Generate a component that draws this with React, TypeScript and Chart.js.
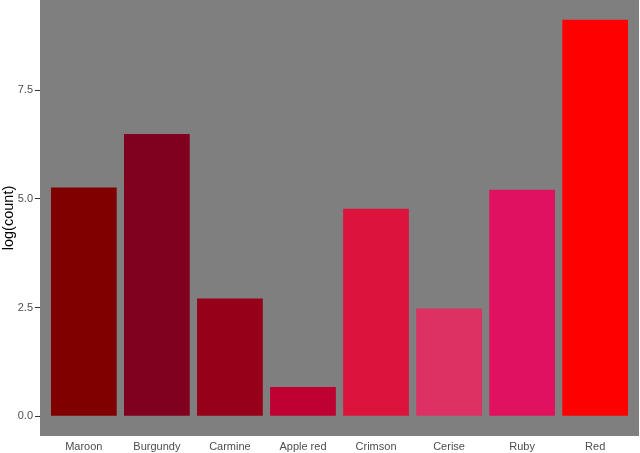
import React, { useEffect, useRef } from "react";
import { Chart, registerables } from "chart.js";

Chart.register(...registerables);

const categories = ["Maroon", "Burgundy", "Carmine", "Apple red", "Crimson", "Cerise", "Ruby", "Red"];
const values = [5.26, 6.49, 2.71, 0.67, 4.77, 2.48, 5.21, 9.12];
const barColors = ["#800000", "#800020", "#960018", "#BE0032", "#DC143C", "#DE3163", "#E0115F", "#FF0000"];
const yTicks = [0, 2.5, 5, 7.5];
const yTitle = "log(count)";

const panelBg = {
  id: "panelBg",
  beforeDraw(chart: any) {
    const { ctx, chartArea } = chart;
    ctx.save();
    ctx.fillStyle = "#7F7F7F";
    ctx.fillRect(chartArea.left, chartArea.top, chartArea.right - chartArea.left, chartArea.bottom - chartArea.top);
    ctx.restore();
  },
};

export default function App() {
  const ref = useRef<HTMLCanvasElement>(null);
  useEffect(() => {
    const maxV = Math.max(...values);
    const chart = new Chart(ref.current!, {
      type: "bar",
      data: {
        datasets: [
          {
            data: values.map((v, i) => ({ x: i + 1, y: v })),
            backgroundColor: barColors,
            borderWidth: 0,
            barPercentage: 1,
            categoryPercentage: 0.9,
          },
        ],
      },
      options: {
        animation: false,
        responsive: false,
        maintainAspectRatio: false,
        layout: { padding: { left: 0, right: 1, top: 0, bottom: 0 } },
        plugins: { legend: { display: false }, tooltip: { enabled: false } },
        scales: {
          x: {
            type: "linear",
            min: 0.4,
            max: categories.length + 0.6,
            offset: false,
            afterBuildTicks: (s: any) => {
              s.ticks = categories.map((_, i) => ({ value: i + 1 }));
            },
            afterFit: (s: any) => {
              s.height = 17;
              s.paddingLeft = 0;
              s.paddingRight = 0;
            },
            ticks: {
              autoSkip: false,
              maxRotation: 0,
              padding: 4,
              color: "#4D4D4D",
              font: { family: "Liberation Sans", size: 11 },
              callback: (v: any) => categories[Math.round(Number(v)) - 1] ?? "",
            },
            grid: { display: false, drawTicks: false, offset: false },
            border: { display: false },
          },
          y: {
            type: "linear",
            min: -0.05 * maxV,
            max: maxV * 1.05,
            afterBuildTicks: (s: any) => {
              s.ticks = yTicks.map((v) => ({ value: v }));
            },
            afterFit: (s: any) => {
              s.width = 40;
              s.paddingTop = 0;
              s.paddingBottom = 0;
            },
            ticks: {
              padding: 2,
              color: "#4D4D4D",
              font: { family: "Liberation Sans", size: 11 },
              callback: (v: any) => Number(v).toFixed(1),
            },
            grid: { drawOnChartArea: false, drawTicks: true, tickLength: 5, color: "#333333" },
            border: { display: false },
            title: {
              display: true,
              text: yTitle,
              color: "#000000",
              font: { family: "Liberation Sans", size: 14.5 },
              padding: { top: 0, bottom: 0 },
            },
          },
        },
      },
      plugins: [panelBg],
    });
    return () => chart.destroy();
  }, []);
  return (
    <div style={{ position: "absolute", left: 0, top: 0, width: 640, height: 453, background: "#ffffff" }}>
      <canvas ref={ref} width={640} height={453} style={{ width: 640, height: 453, display: "block" }} />
    </div>
  );
}
